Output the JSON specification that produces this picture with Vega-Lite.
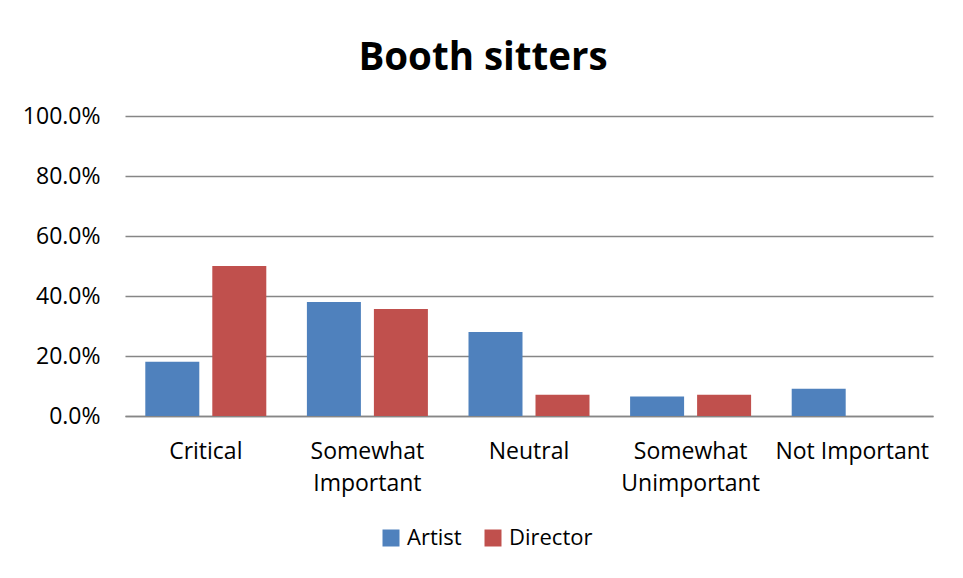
{
  "$schema": "https://vega.github.io/schema/vega-lite/v6.json",
  "width": 808,
  "height": 300,
  "autosize": {"type": "none"},
  "padding": {"left": 125, "top": 116, "right": 30, "bottom": 162},
  "background": "white",
  "title": {
    "text": "Booth sitters",
    "font": "Open Sans",
    "fontSize": 38.5,
    "fontWeight": "bold",
    "color": "#000000",
    "anchor": "middle",
    "dx": -46,
    "offset": 27
  },
  "data": {
    "values": [
      {"category": "Critical", "group": "Artist", "value": 0.181},
      {"category": "Critical", "group": "Director", "value": 0.5},
      {"category": "Somewhat Important", "group": "Artist", "value": 0.38},
      {"category": "Somewhat Important", "group": "Director", "value": 0.357},
      {"category": "Neutral", "group": "Artist", "value": 0.28},
      {"category": "Neutral", "group": "Director", "value": 0.071},
      {"category": "Somewhat Unimportant", "group": "Artist", "value": 0.065},
      {"category": "Somewhat Unimportant", "group": "Director", "value": 0.071},
      {"category": "Not Important", "group": "Artist", "value": 0.091},
      {"category": "Not Important", "group": "Director", "value": 0}
    ]
  },
  "mark": {"type": "bar"},
  "encoding": {
    "x": {
      "field": "category",
      "type": "nominal",
      "sort": ["Critical", "Somewhat Important", "Neutral", "Somewhat Unimportant", "Not Important"],
      "scale": {"paddingInner": 0, "paddingOuter": 0},
      "axis": {
        "title": null,
        "labelAngle": 0,
        "labelFont": "Open Sans",
        "labelFontSize": 23,
        "labelColor": "#000000",
        "labelPadding": 24,
        "labelLineHeight": 32,
        "labelExpr": "indexof(datum.label, 'Somewhat') == 0 ? split(datum.label, ' ') : datum.label",
        "ticks": false,
        "domainColor": "#868686",
        "domainWidth": 1.5,
        "grid": false
      }
    },
    "xOffset": {
      "field": "group",
      "type": "nominal",
      "scale": {"paddingInner": 0.194, "paddingOuter": 0.303}
    },
    "y": {
      "field": "value",
      "type": "quantitative",
      "scale": {"domain": [0, 1]},
      "axis": {
        "title": null,
        "format": ".1%",
        "values": [0, 0.2, 0.4, 0.6, 0.8, 1.0],
        "labelFont": "Open Sans",
        "labelFontSize": 23,
        "labelColor": "#000000",
        "labelPadding": 25,
        "ticks": false,
        "domain": false,
        "grid": true,
        "gridColor": "#868686",
        "gridWidth": 1.5
      }
    },
    "color": {
      "field": "group",
      "type": "nominal",
      "scale": {"domain": ["Artist", "Director"], "range": ["#4F81BD", "#C0504D"]},
      "legend": {
        "title": null,
        "orient": "none",
        "direction": "horizontal",
        "legendX": 255,
        "legendY": 411,
        "symbolType": "square",
        "symbolSize": 289,
        "symbolStrokeWidth": 0,
        "labelFont": "Open Sans",
        "labelFontSize": 22,
        "labelColor": "#000000",
        "columnPadding": 20,
        "labelOffset": 5
      }
    }
  },
  "config": {
    "view": {"stroke": null}
  }
}
